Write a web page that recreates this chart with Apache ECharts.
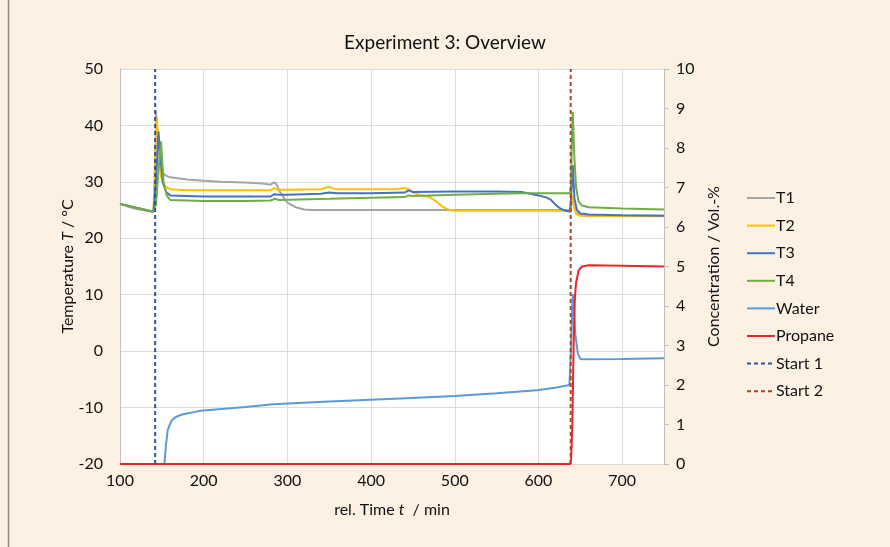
<!DOCTYPE html>
<html><head><meta charset="utf-8">
<script src="https://cdn.jsdelivr.net/npm/echarts@6/dist/echarts.min.js"></script>
<style>html,body{margin:0;padding:0;background:#FDF1E4;}#c{width:890px;height:547px;}</style>
</head><body><div id="c"></div>
<script>
const t1T=[100,110,120,130,140,142,143,145,148,152,155,160,180,200,220,250,270,280,284,287,290,295,300,310,320,330,350,400,450,500,550,600,635,638,640,642,645,650,660,700,750];
const t1V=[26.1,25.6,25.2,24.9,24.7,30,42.6,38,33,31.5,31.1,30.8,30.4,30.2,30.0,29.9,29.7,29.5,29.9,29.6,28.5,27.3,26.3,25.5,25.1,25.0,25.0,25.0,25.0,25.0,25.0,25.0,25.0,25.0,27,26,24.5,24.1,24.0,24.0,24.0];
const t2T=[100,140,142,144,146,149,152,156,160,180,200,250,280,284,287,290,300,340,345,350,355,360,400,430,440,445,450,460,470,478,485,494,500,550,600,638,640,642,645,650,700,750];
const t2V=[26.1,24.7,35,41.2,37,31,29.5,29.0,28.7,28.5,28.5,28.5,28.5,28.9,28.7,28.6,28.6,28.7,28.9,29.1,28.8,28.7,28.7,28.7,28.9,28.7,28.1,27.6,27.3,26.5,25.6,25.0,24.9,24.9,24.9,24.9,27.5,26,24.3,24.0,23.9,23.9];
const t3T=[100,140,143,146,148,151,155,160,200,250,280,284,290,300,340,350,360,400,440,445,450,500,550,580,600,610,615,620,625,630,635,638,640,641,643,646,650,660,700,750];
const t3V=[26.1,24.7,30,38.9,35,30,28.2,27.6,27.4,27.4,27.4,27.8,27.7,27.7,27.9,28.1,28.0,28.0,28.1,28.5,28.2,28.3,28.3,28.2,27.6,27.2,26.8,26.0,25.4,25.0,24.8,24.7,30,33,27,25,24.4,24.2,24.1,24.0];
const t4T=[100,140,143,146,149,152,156,160,200,250,280,285,290,350,400,440,445,450,500,550,580,600,638,639,640,641,643,645,648,652,660,700,750];
const t4V=[26.1,24.7,26,32,37.2,30,27.5,26.8,26.6,26.6,26.7,27.0,26.8,27.0,27.2,27.3,27.6,27.5,27.7,27.9,28.0,28.0,28.0,30,38,42.4,34,29,26.5,25.8,25.5,25.3,25.1];
const waterT=[153,155,157,160,162,166,172,180,190,196,250,283,350,435,500,550,598,620,637,639,641,642,644,647,650,655,700,750];
const waterV=[0,0.5,0.86,1.02,1.11,1.18,1.24,1.28,1.32,1.35,1.44,1.51,1.58,1.66,1.72,1.79,1.87,1.93,2.0,3.0,4.3,4.1,3.3,2.8,2.66,2.65,2.66,2.68];
const propT=[100,638,639,640.5,642,643.5,645,648,652,660,700,750];
const propV=[0,0,0.1,1.0,3.0,4.2,4.6,4.9,5.0,5.03,5.02,5.0];
const start1T=142, start2T=638.5;
const names=['T1','T2','T3','T4','Water','Propane','Start 1','Start 2'];
const colors=['#A5A5A5','#FFC000','#4472C4','#70AD47','#5B9BD5','#E8262B','#2F5597','#A9452B'];

const pair=(a,b)=>a.map((x,i)=>[x,b[i]]);
const chart=echarts.init(document.getElementById('c'),null,{renderer:'canvas'});
const FF='Lato, "Open Sans", sans-serif';
const TC='#111111';
function lineS(i,data,yIdx,dashed){
  return {name:names[i],type:'line',data:data,yAxisIndex:yIdx,showSymbol:false,symbol:'none',
    lineStyle:{color:colors[i],width:2,type:dashed?[4,3]:'solid'},itemStyle:{color:colors[i]},
    animation:false,z:dashed?5:3};
}
chart.setOption({
  backgroundColor:'#FDF1E4',
  animation:false,
  title:{text:'Experiment 3: Overview',left:'center',top:28,textStyle:{fontFamily:FF,fontSize:19,fontWeight:'normal',color:TC}},
  grid:{left:120,right:226,top:69,bottom:83,show:true,backgroundColor:'#ffffff',borderWidth:0},
  legend:{orient:'vertical',left:741,top:185,itemWidth:28,itemHeight:14,itemGap:11.6,
    itemStyle:{opacity:0},
    textStyle:{fontFamily:FF,fontSize:16,color:TC,padding:[0,0,0,-4]},data:names},
  xAxis:{type:'value',min:100,max:750,interval:100,
    axisLine:{show:false},axisTick:{show:false},
    axisLabel:{fontFamily:FF,fontSize:16,color:TC,margin:9,showMaxLabel:false},
    splitLine:{lineStyle:{color:'#DCDCDC'}},
    name:'{a|rel. Time }{i|t}{a|  / min}',nameLocation:'middle',nameGap:38,
    nameTextStyle:{rich:{a:{fontFamily:FF,fontSize:16,color:TC},i:{fontFamily:FF,fontSize:16,fontStyle:'italic',color:TC}}}},
  yAxis:[{type:'value',min:-20,max:50,interval:10,
    axisLine:{show:true,lineStyle:{color:'#BFBFBF'}},axisTick:{show:false},
    axisLabel:{fontFamily:FF,fontSize:16,color:TC,margin:17},
    splitLine:{lineStyle:{color:'#DCDCDC'}},
    name:'{a|Temperature }{i|T}{a| / °C}',nameLocation:'middle',nameGap:44,nameRotate:90,nameMoveOverlap:false,
    nameTextStyle:{rich:{a:{fontFamily:FF,fontSize:16,color:TC},i:{fontFamily:FF,fontSize:16,fontStyle:'italic',color:TC}}}},
   {type:'value',min:0,max:10,interval:1,position:'right',
    axisLine:{show:true,lineStyle:{color:'#BFBFBF'}},axisTick:{show:true,length:5,lineStyle:{color:'#BFBFBF'}},
    axisLabel:{fontFamily:FF,fontSize:16,color:TC,margin:12},
    splitLine:{show:false},
    name:'Concentration / Vol.-%',nameLocation:'middle',nameGap:38,nameRotate:90,
    nameTextStyle:{fontFamily:FF,fontSize:16,color:TC}}],
  graphic:[{type:'line',shape:{x1:8.5,y1:0,x2:8.5,y2:547},style:{stroke:'#8c8c8c',lineWidth:1.5}}],
  series:[
    lineS(0,pair(t1T,t1V),0),
    lineS(1,pair(t2T,t2V),0),
    lineS(2,pair(t3T,t3V),0),
    lineS(3,pair(t4T,t4V),0),
    lineS(4,pair(waterT,waterV),1),
    lineS(5,pair(propT,propV),1),
    lineS(6,[[start1T,-20],[start1T,50]],0,true),
    lineS(7,[[start2T,-20],[start2T,50]],0,true)
  ]
});
</script></body></html>
